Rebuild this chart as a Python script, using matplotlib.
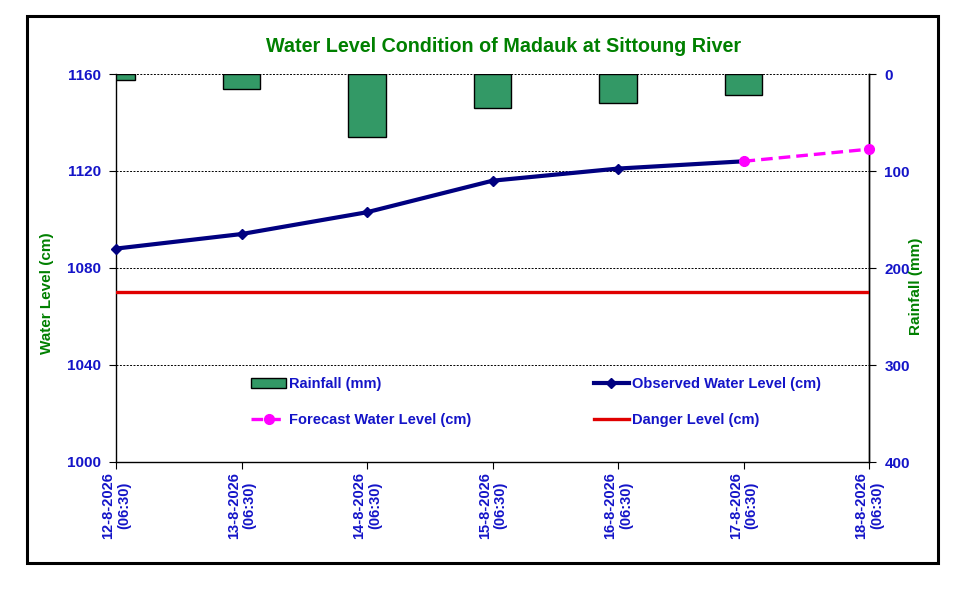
import matplotlib
matplotlib.use("Agg")
import matplotlib.pyplot as plt
from matplotlib.patches import Rectangle

plt.rcParams['font.family'] = ['Liberation Sans', 'DejaVu Sans']
plt.rcParams['font.weight'] = 'bold'

dates = ["12-8-2026\n(06:30)", "13-8-2026\n(06:30)", "14-8-2026\n(06:30)",
         "15-8-2026\n(06:30)", "16-8-2026\n(06:30)", "17-8-2026\n(06:30)",
         "18-8-2026\n(06:30)"]
rainfall = [6.5, 15, 65, 35, 30, 22]
observed = [1088, 1094, 1103, 1116, 1121, 1124]
forecast_idx = [5, 6]
forecast = [1124, 1129]
danger_level = 1070

title = "Water Level Condition of Madauk at Sittoung River"
blue = '#1414C8'
green = '#008000'

W, H = 955, 596
fig = plt.figure(figsize=(W / 100, H / 100), dpi=100)
fig.patch.set_facecolor('white')

# outer frame
fig.add_artist(Rectangle((27 / W, 1 - 563 / H), (938 - 27) / W, (563 - 16) / H,
                         transform=fig.transFigure, fill=False, edgecolor='black', lw=2.2))

left, right, top, bottom = 116, 869, 74, 462
ax = fig.add_axes([left / W, 1 - bottom / H, (right - left) / W, (bottom - top) / H])
ax2 = ax.twinx()

# rainfall bars on the secondary axis (inverted)
ax2.set_facecolor('#CCFFFF')
x_r = list(range(len(rainfall)))
bars = ax2.bar(x_r, rainfall, width=0.3, color='#339966', edgecolor='black', linewidth=1.0,
               label='Rainfall (mm)')
ax2.set_ylim(400, 0)
ax2.set_yticks([0, 100, 200, 300, 400])

ax.set_zorder(ax2.get_zorder() + 1)
ax.patch.set_visible(False)

x_o = list(range(len(observed)))
l_obs, = ax.plot(x_o, observed, color='#000080', lw=3.0, marker='D', ms=5.5,
                 label='Observed Water Level (cm)', zorder=5, clip_on=False)
l_fc, = ax.plot(forecast_idx, forecast, color='#FF00FF', lw=2.4, ls=(0, (3.5, 1.8)), marker='o', ms=7,
                label='Forecast Water Level (cm)', zorder=6, clip_on=False)
l_dg = ax.axhline(danger_level, color='#E00000', lw=2.4, label='Danger Level (cm)', zorder=4)

ax.set_xlim(0, len(dates) - 1)
ax.set_ylim(1000, 1160)
ax.set_yticks([1000, 1040, 1080, 1120, 1160])
ax.set_xticks(range(len(dates)))
ax.set_xticklabels(dates, rotation=90, ha='center', va='top', multialignment='center',
                   linespacing=1.15)
for gy in [1040, 1080, 1120, 1160]:
    ax.axhline(gy, color='black', lw=0.7, ls=(0, (2, 1.5)), zorder=1)

for a in (ax, ax2):
    a.spines['top'].set_visible(False)
    for s in ('left', 'right', 'bottom'):
        a.spines[s].set_linewidth(1.0)
ax2.spines['left'].set_visible(False)
ax2.spines['bottom'].set_visible(False)
ax2.spines['right'].set_visible(True)

ax.tick_params(axis='y', labelsize=11, length=5, direction='out', pad=6)
ax.tick_params(axis='x', labelsize=10.5, length=5, direction='out', pad=2)
ax2.tick_params(axis='y', labelsize=11, length=5, direction='out', pad=6)
for a in (ax, ax2):
    for t in a.get_yticklabels() + a.get_xticklabels():
        t.set_fontweight('bold')
        t.set_color(blue)
    a.tick_params(axis='both', color='black')

fig.text(47 / W, 1 - 293 / H, 'Water Level (cm)', rotation=90, color=green, fontsize=11,
         fontweight='bold', ha='center', va='center')
fig.text(916 / W, 1 - 286 / H, 'Rainfall (mm)', rotation=90, color=green, fontsize=11,
         fontweight='bold', ha='center', va='center')
fig.text(504 / W, 1 - 47 / H, title, color=green, fontsize=14.2, fontweight='bold',
         ha='center', va='center')

handles = [bars, l_fc, l_obs, l_dg]
labels = ['Rainfall (mm)', 'Forecast Water Level (cm)', 'Observed Water Level (cm)', 'Danger Level (cm)']
leg = ax.legend(handles, labels, ncol=2, frameon=False, loc='center left',
                bbox_to_anchor=(238 / W, 1 - 402 / H), bbox_transform=fig.transFigure,
                fontsize=10.5, handlelength=2.4, handletextpad=0.2, columnspacing=8.4,
                labelspacing=1.5)
for t in leg.get_texts():
    t.set_color(blue)
    t.set_fontweight('bold')

fig.savefig('out.png', dpi=100)
